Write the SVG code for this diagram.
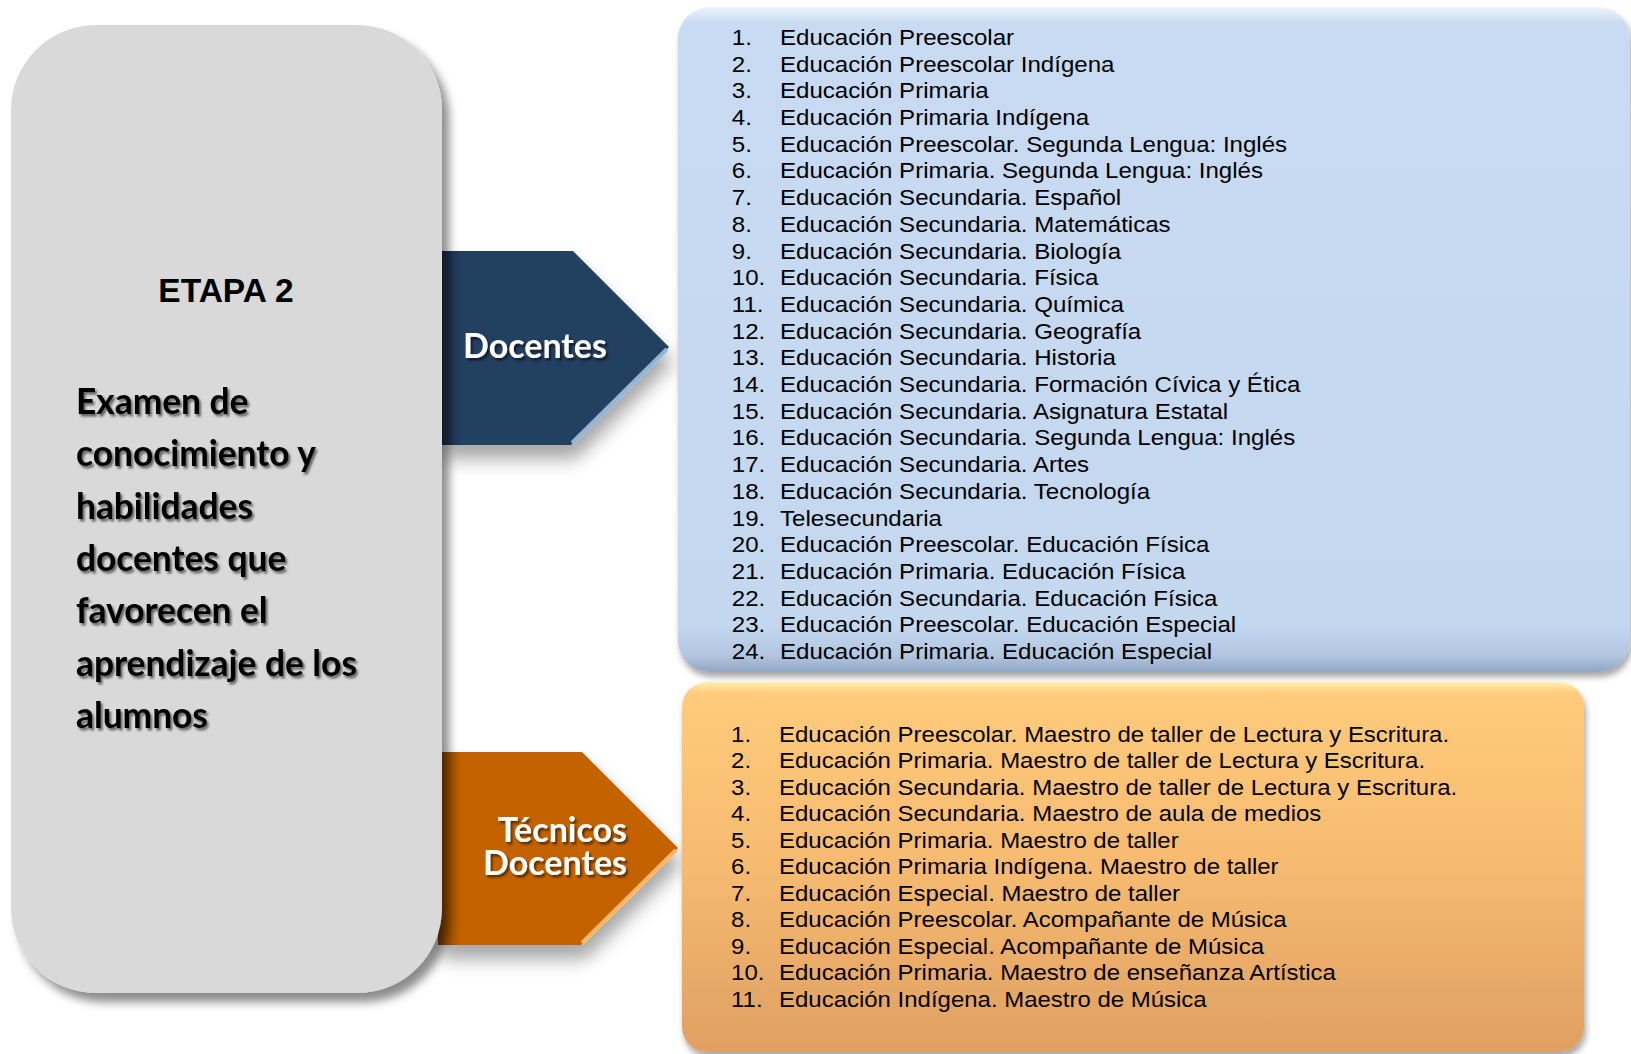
<svg xmlns="http://www.w3.org/2000/svg" width="1631" height="1054" viewBox="0 0 1631 1054">
<defs>
<style>
.big{font-family:Lato,"Liberation Sans",sans-serif;font-weight:700;font-size:35.3px;fill:#000}
.lbl{font-family:Lato,"Liberation Sans",sans-serif;font-weight:700;font-size:34px;fill:#fff}
.etapa{font-family:"Liberation Sans",Arial,sans-serif;font-weight:700;font-size:33.5px;fill:#000}
.li{font-family:"Liberation Sans",Arial,sans-serif;font-size:22px;fill:#000}
</style>
<filter id="boxShadow" x="-10%" y="-10%" width="125%" height="125%">
<feDropShadow dx="7" dy="9" stdDeviation="5" flood-color="#000" flood-opacity="0.45"/>
</filter>
<filter id="panelShadow" x="-5%" y="-5%" width="110%" height="115%">
<feDropShadow dx="2" dy="5" stdDeviation="3" flood-color="#000" flood-opacity="0.35"/>
</filter>
<filter id="arrowShadow" x="-10%" y="-10%" width="130%" height="140%">
<feDropShadow dx="3" dy="14" stdDeviation="9" flood-color="#000" flood-opacity="0.35"/>
</filter>
<filter id="txtShadow" x="-10%" y="-20%" width="130%" height="150%">
<feDropShadow dx="2" dy="2.5" stdDeviation="1.3" flood-color="#000" flood-opacity="0.55"/>
</filter>
<linearGradient id="blueFill" x1="0" y1="0" x2="0" y2="1">
<stop offset="0" stop-color="#eef4fc"/>
<stop offset="0.025" stop-color="#c8dbf2"/>
<stop offset="0.93" stop-color="#c3d7ef"/>
<stop offset="0.975" stop-color="#b2c6e0"/>
<stop offset="1" stop-color="#91a6c2"/>
</linearGradient>
<linearGradient id="orangeFill" x1="0" y1="0" x2="0" y2="1">
<stop offset="0" stop-color="#fff0b0"/>
<stop offset="0.03" stop-color="#ffcb7b"/>
<stop offset="0.5" stop-color="#f6ba70"/>
<stop offset="1" stop-color="#dfa062"/>
</linearGradient>
<linearGradient id="navyFill" x1="0" y1="0" x2="1" y2="0">
<stop offset="0" stop-color="#1a2c44"/>
<stop offset="0.1" stop-color="#243f60"/>
<stop offset="1" stop-color="#243f60"/>
</linearGradient>
<linearGradient id="rustFill" x1="0" y1="0" x2="1" y2="0">
<stop offset="0" stop-color="#7d3e00"/>
<stop offset="0.1" stop-color="#c46200"/>
<stop offset="1" stop-color="#c46200"/>
</linearGradient>
</defs>

<g id="connectors">
<g id="arrow-docentes" filter="url(#arrowShadow)">
<polygon points="440,251 573,251 669,347 571,445 440,445" fill="url(#navyFill)"/>
<line x1="667" y1="349" x2="572" y2="443" stroke="#95b3d7" stroke-width="4"/>
<text class="lbl" x="535" y="358" text-anchor="middle" filter="url(#txtShadow)">Docentes</text>
</g>
<g id="arrow-tecnicos" filter="url(#arrowShadow)">
<polygon points="438,752 582,752 678,848 581,945 438,945" fill="url(#rustFill)"/>
<line x1="676" y1="850" x2="582" y2="943" stroke="#f8b768" stroke-width="4"/>
<text class="lbl" text-anchor="end" filter="url(#txtShadow)"><tspan x="627" y="842">Técnicos</tspan><tspan x="627" y="875">Docentes</tspan></text>
</g>
</g>

<g id="etapa">
<rect x="11" y="25" width="431" height="968" rx="85" ry="85" fill="#d9d9d9" filter="url(#boxShadow)"/>
<text class="etapa" x="226" y="302" text-anchor="middle">ETAPA 2</text>
<g filter="url(#txtShadow)">
<text class="big" x="76" y="414">Examen de</text>
<text class="big" x="76" y="466">conocimiento y</text>
<text class="big" x="76" y="519">habilidades</text>
<text class="big" x="76" y="571">docentes que</text>
<text class="big" x="76" y="623">favorecen el</text>
<text class="big" x="76" y="676">aprendizaje de los</text>
<text class="big" x="76" y="728">alumnos</text>
</g>
</g>

<g id="docentes-list">
<rect x="678" y="7" width="952" height="665" rx="32" ry="32" fill="url(#blueFill)" filter="url(#panelShadow)"/>
<g transform="translate(780,0) scale(1.095,1)">
<text class="li" x="-44" y="45">1.</text><text class="li" x="0" y="45">Educación Preescolar</text>
<text class="li" x="-44" y="71.7">2.</text><text class="li" x="0" y="71.7">Educación Preescolar Indígena</text>
<text class="li" x="-44" y="98.4">3.</text><text class="li" x="0" y="98.4">Educación Primaria</text>
<text class="li" x="-44" y="125.1">4.</text><text class="li" x="0" y="125.1">Educación Primaria Indígena</text>
<text class="li" x="-44" y="151.8">5.</text><text class="li" x="0" y="151.8">Educación Preescolar. Segunda Lengua: Inglés</text>
<text class="li" x="-44" y="178.5">6.</text><text class="li" x="0" y="178.5">Educación Primaria. Segunda Lengua: Inglés</text>
<text class="li" x="-44" y="205.2">7.</text><text class="li" x="0" y="205.2">Educación Secundaria. Español</text>
<text class="li" x="-44" y="231.9">8.</text><text class="li" x="0" y="231.9">Educación Secundaria. Matemáticas</text>
<text class="li" x="-44" y="258.6">9.</text><text class="li" x="0" y="258.6">Educación Secundaria. Biología</text>
<text class="li" x="-44" y="285.3">10.</text><text class="li" x="0" y="285.3">Educación Secundaria. Física</text>
<text class="li" x="-44" y="312">11.</text><text class="li" x="0" y="312">Educación Secundaria. Química</text>
<text class="li" x="-44" y="338.7">12.</text><text class="li" x="0" y="338.7">Educación Secundaria. Geografía</text>
<text class="li" x="-44" y="365.4">13.</text><text class="li" x="0" y="365.4">Educación Secundaria. Historia</text>
<text class="li" x="-44" y="392.1">14.</text><text class="li" x="0" y="392.1">Educación Secundaria. Formación Cívica y Ética</text>
<text class="li" x="-44" y="418.8">15.</text><text class="li" x="0" y="418.8">Educación Secundaria. Asignatura Estatal</text>
<text class="li" x="-44" y="445.5">16.</text><text class="li" x="0" y="445.5">Educación Secundaria. Segunda Lengua: Inglés</text>
<text class="li" x="-44" y="472.2">17.</text><text class="li" x="0" y="472.2">Educación Secundaria. Artes</text>
<text class="li" x="-44" y="498.9">18.</text><text class="li" x="0" y="498.9">Educación Secundaria. Tecnología</text>
<text class="li" x="-44" y="525.6">19.</text><text class="li" x="0" y="525.6">Telesecundaria</text>
<text class="li" x="-44" y="552.3">20.</text><text class="li" x="0" y="552.3">Educación Preescolar. Educación Física</text>
<text class="li" x="-44" y="579">21.</text><text class="li" x="0" y="579">Educación Primaria. Educación Física</text>
<text class="li" x="-44" y="605.7">22.</text><text class="li" x="0" y="605.7">Educación Secundaria. Educación Física</text>
<text class="li" x="-44" y="632.4">23.</text><text class="li" x="0" y="632.4">Educación Preescolar. Educación Especial</text>
<text class="li" x="-44" y="659.1">24.</text><text class="li" x="0" y="659.1">Educación Primaria. Educación Especial</text>
</g>
</g>

<g id="tecnicos-list">
<rect x="682" y="682" width="902" height="370" rx="25" ry="25" fill="url(#orangeFill)" filter="url(#panelShadow)"/>
<g transform="translate(779,0) scale(1.09,1)">
<text class="li" x="-44" y="742">1.</text><text class="li" x="0" y="742">Educación Preescolar. Maestro de taller de Lectura y Escritura.</text>
<text class="li" x="-44" y="768.5">2.</text><text class="li" x="0" y="768.5">Educación Primaria. Maestro de taller de Lectura y Escritura.</text>
<text class="li" x="-44" y="795">3.</text><text class="li" x="0" y="795">Educación Secundaria. Maestro de taller de Lectura y Escritura.</text>
<text class="li" x="-44" y="821.5">4.</text><text class="li" x="0" y="821.5">Educación Secundaria. Maestro de aula de medios</text>
<text class="li" x="-44" y="848">5.</text><text class="li" x="0" y="848">Educación Primaria. Maestro de taller</text>
<text class="li" x="-44" y="874.5">6.</text><text class="li" x="0" y="874.5">Educación Primaria Indígena. Maestro de taller</text>
<text class="li" x="-44" y="901">7.</text><text class="li" x="0" y="901">Educación Especial. Maestro de taller</text>
<text class="li" x="-44" y="927.5">8.</text><text class="li" x="0" y="927.5">Educación Preescolar. Acompañante de Música</text>
<text class="li" x="-44" y="954">9.</text><text class="li" x="0" y="954">Educación Especial. Acompañante de Música</text>
<text class="li" x="-44" y="980.5">10.</text><text class="li" x="0" y="980.5">Educación Primaria. Maestro de enseñanza Artística</text>
<text class="li" x="-44" y="1007">11.</text><text class="li" x="0" y="1007">Educación Indígena. Maestro de Música</text>
</g>
</g>
</svg>
